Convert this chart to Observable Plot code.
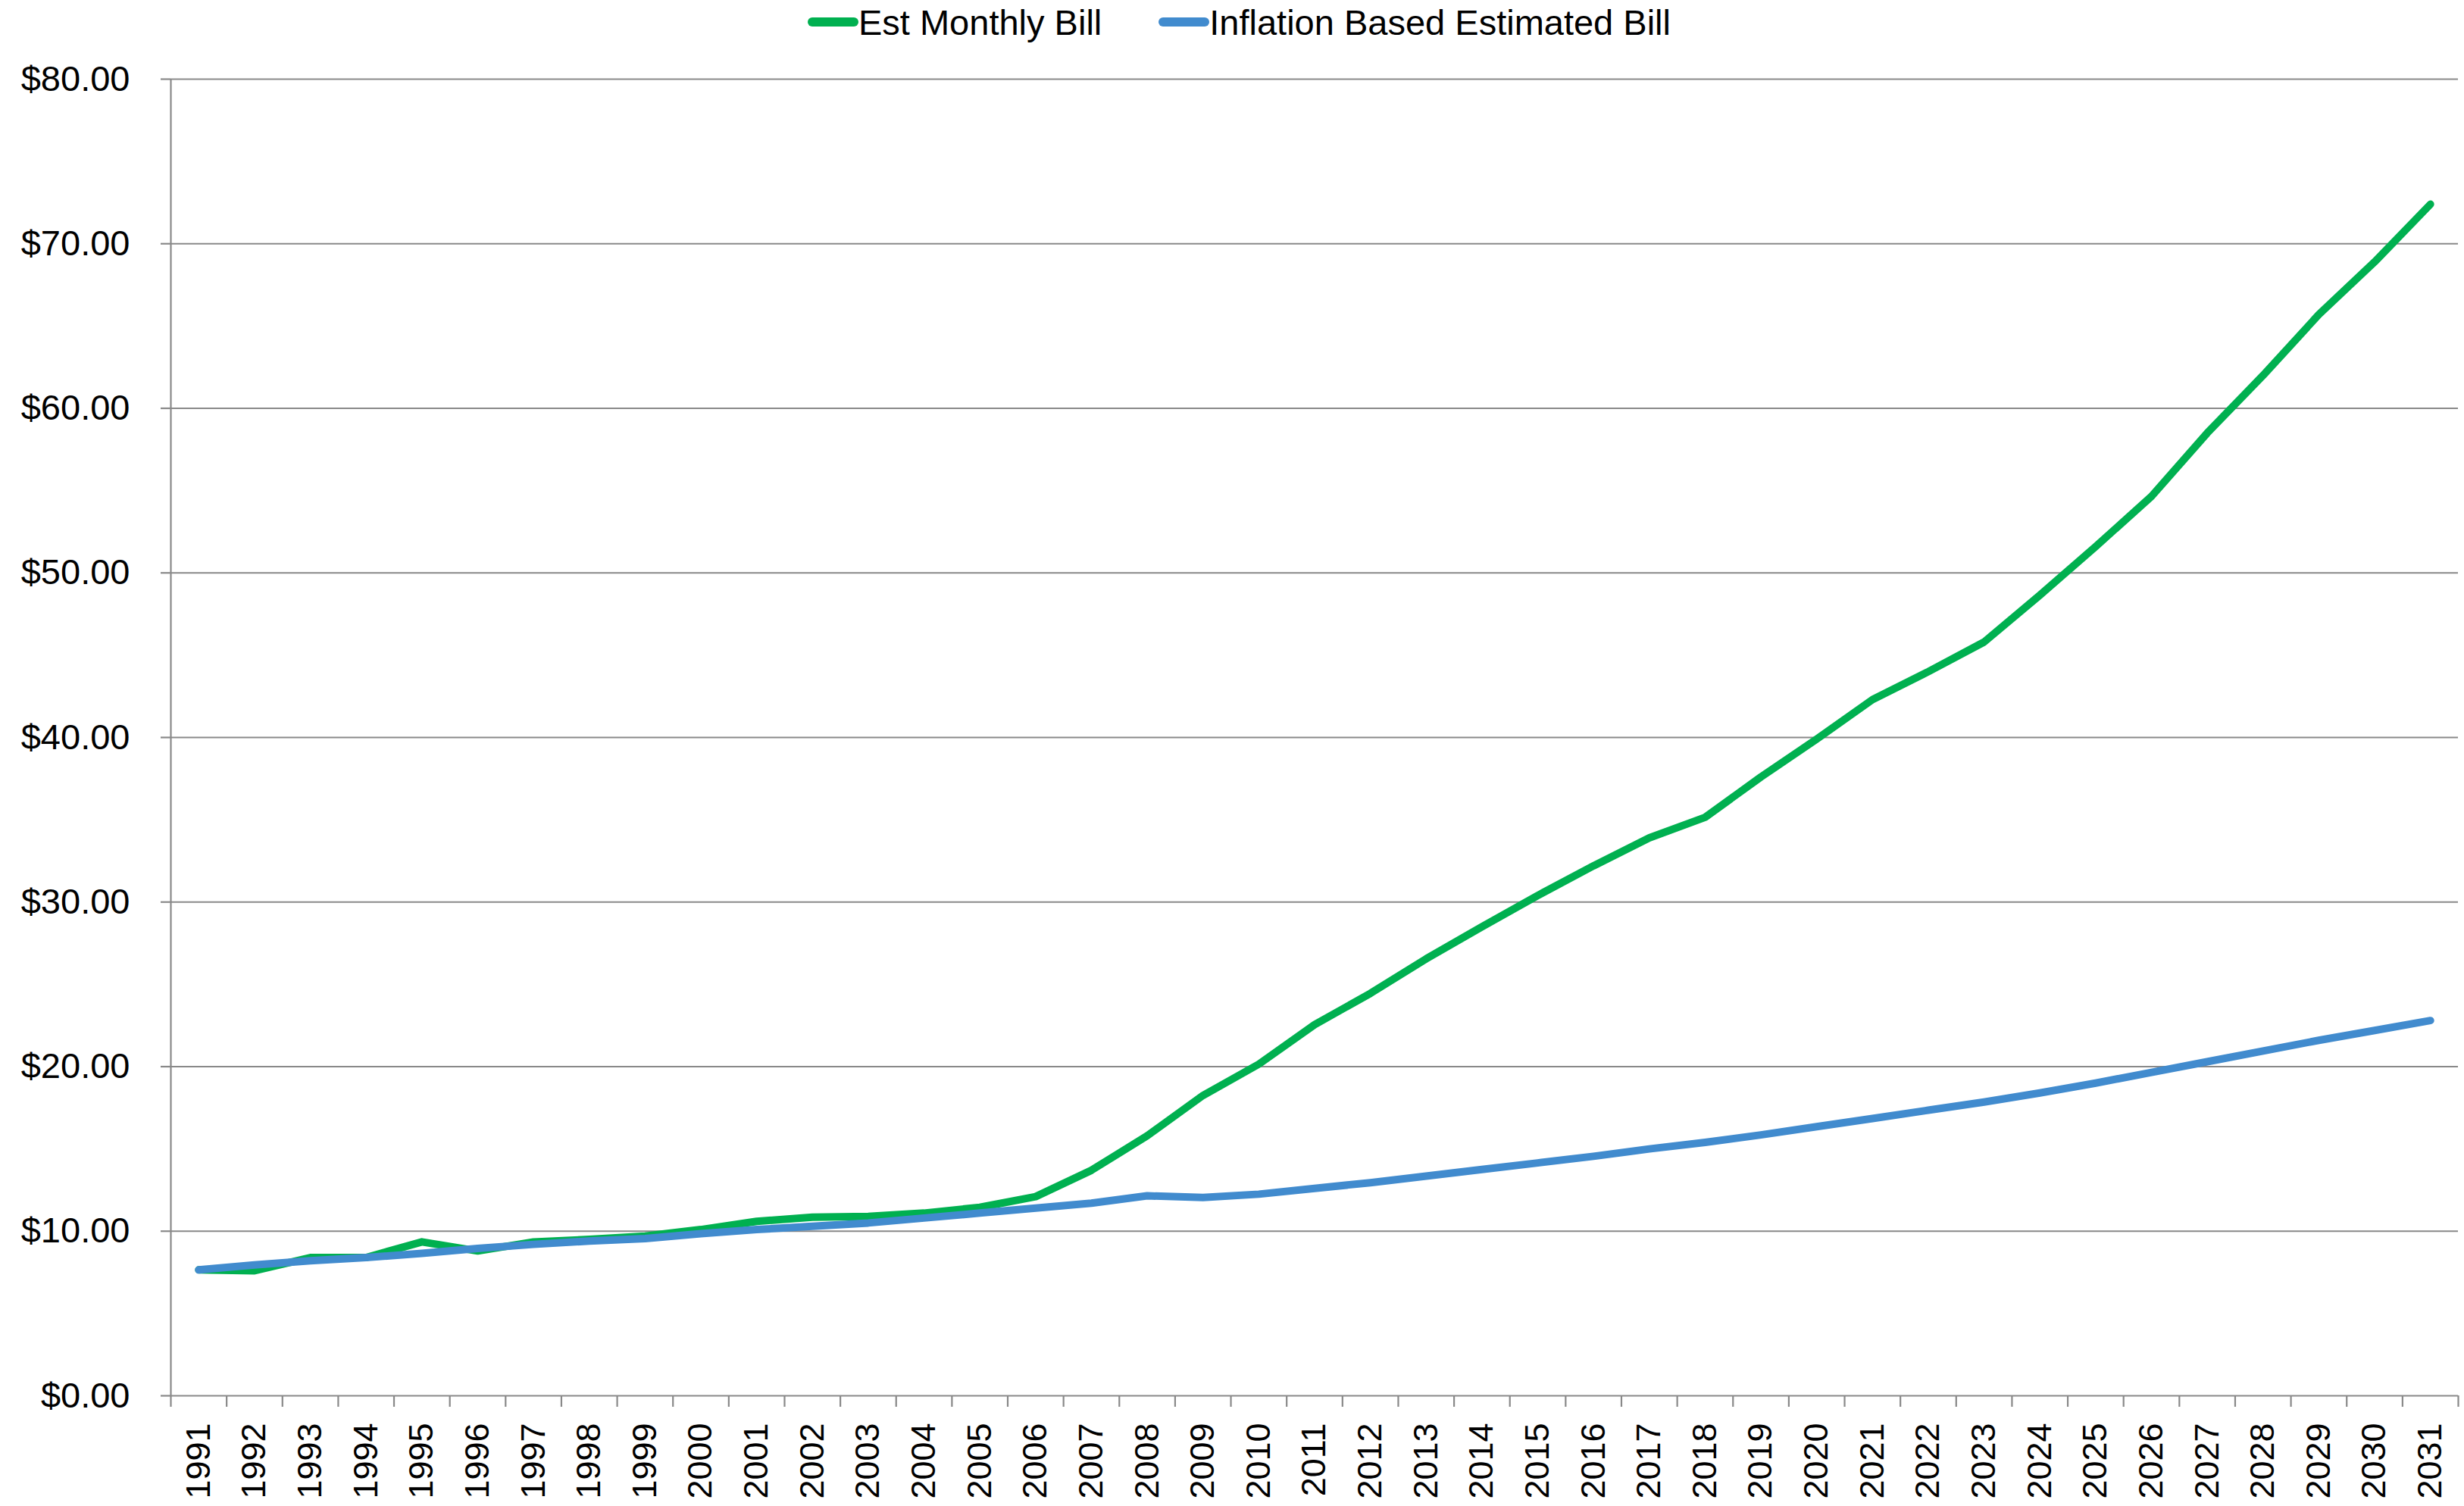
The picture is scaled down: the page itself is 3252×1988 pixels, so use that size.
<!DOCTYPE html>
<html>
<head>
<meta charset="utf-8">
<script src="https://cdn.jsdelivr.net/npm/d3@7"></script>
<script src="https://cdn.jsdelivr.net/npm/@observablehq/plot@0.6"></script>
<style>
  html, body { margin: 0; padding: 0; background: #fff; }
  body { width: 3252px; font-family: "Liberation Sans", Arial, sans-serif; color: #000; }
  .legend { height: 58px; display: flex; align-items: center; padding-left: 1066px; font-size: 47px; white-space: nowrap; }
  .legend .item { display: flex; align-items: center; }
  .legend .item + .item { margin-left: 75px; }
  .legend .swatch { display: inline-block; width: 67px; height: 12px; border-radius: 6px; }
  svg { display: block; }
</style>
</head>
<body>
<div class="legend" id="legend"></div>
<div id="chart"></div>
<script>
// Fiscal years shown on the x axis
const years = [1991, 1992, 1993, 1994, 1995, 1996, 1997, 1998, 1999, 2000,
               2001, 2002, 2003, 2004, 2005, 2006, 2007, 2008, 2009, 2010,
               2011, 2012, 2013, 2014, 2015, 2016, 2017, 2018, 2019, 2020,
               2021, 2022, 2023, 2024, 2025, 2026, 2027, 2028, 2029, 2030, 2031];

// Estimated monthly bill ($)
const estMonthlyBill = [7.65, 7.6, 8.4, 8.4, 9.35, 8.8, 9.35, 9.5, 9.7, 10.1,
                        10.6, 10.85, 10.9, 11.1, 11.45, 12.1, 13.7, 15.8, 18.25, 20.15,
                        22.55, 24.45, 26.55, 28.5, 30.4, 32.2, 33.9, 35.15, 37.6, 39.9,
                        42.3, 44.0, 45.8, 48.65, 51.6, 54.65, 58.5, 62.0, 65.7, 68.9, 72.4];

// Bill grown only by inflation ($)
const inflationBill = [7.65, 7.95, 8.2, 8.4, 8.65, 8.95, 9.2, 9.4, 9.55, 9.85,
                       10.1, 10.3, 10.5, 10.8, 11.1, 11.4, 11.7, 12.15, 12.05, 12.25,
                       12.6, 12.95, 13.35, 13.75, 14.15, 14.55, 15.0, 15.4, 15.85, 16.35,
                       16.85, 17.35, 17.85, 18.4, 19.0, 19.65, 20.3, 20.95, 21.6, 22.2, 22.8];

// Dollar ticks on the y axis
const yTicks = [0, 10, 20, 30, 40, 50, 60, 70, 80];

const seriesNames = ["Est Monthly Bill", "Inflation Based Estimated Bill"];
const seriesColors = ["#00B050", "#418BCE"];

const rows = years.map((year, i) => ({year, est: estMonthlyBill[i], infl: inflationBill[i]}));

// Category boundaries, where the x-axis tick marks sit
const boundaries = [years[0] - 0.5, ...years.map(y => y + 0.5)];

const gridColor = "#898989";

const chart = Plot.plot({
  width: 3252,
  height: 1930,
  marginTop: 46,
  marginBottom: 146,
  marginLeft: 225,
  marginRight: 8,
  style: {fontFamily: "'Liberation Sans', Arial, sans-serif", fontSize: "47px", color: "#000", background: "#fff", overflow: "visible"},
  x: {type: "linear", domain: [years[0] - 0.5, years[years.length - 1] + 0.5]},
  y: {domain: [0, 80]},
  marks: [
    Plot.ruleY(yTicks, {stroke: gridColor, strokeWidth: 2.2}),
    Plot.ruleX([boundaries[0]], {stroke: gridColor, strokeWidth: 2.2}),
    Plot.axisY({ticks: yTicks, tickSize: 13, tickPadding: 41, tickFormat: d => "$" + d.toFixed(2),
                stroke: gridColor, strokeWidth: 2.2, strokeOpacity: 1, fontSize: 47, fill: "#000", label: null}),
    Plot.axisX({ticks: boundaries, tickSize: 15, tickFormat: () => "", stroke: gridColor, strokeWidth: 2.2, strokeOpacity: 1, label: null}),
    Plot.axisX({ticks: years, tickSize: 0, tickPadding: 36, tickRotate: -90, tickFormat: d => String(d),
                fontSize: 45, fill: "#000", label: null}),
    Plot.line(rows, {x: "year", y: "est", stroke: seriesColors[0], strokeWidth: 10, strokeLinecap: "round", strokeLinejoin: "round"}),
    Plot.line(rows, {x: "year", y: "infl", stroke: seriesColors[1], strokeWidth: 10, strokeLinecap: "round", strokeLinejoin: "round"})
  ]
});
document.getElementById("chart").append(chart);

// Legend row above the chart
const legend = document.getElementById("legend");
seriesNames.forEach((name, i) => {
  const item = document.createElement("span");
  item.className = "item";
  const sw = document.createElement("span");
  sw.className = "swatch";
  sw.style.background = seriesColors[i];
  const label = document.createElement("span");
  label.textContent = name;
  item.append(sw, label);
  legend.append(item);
});
</script>
</body>
</html>
